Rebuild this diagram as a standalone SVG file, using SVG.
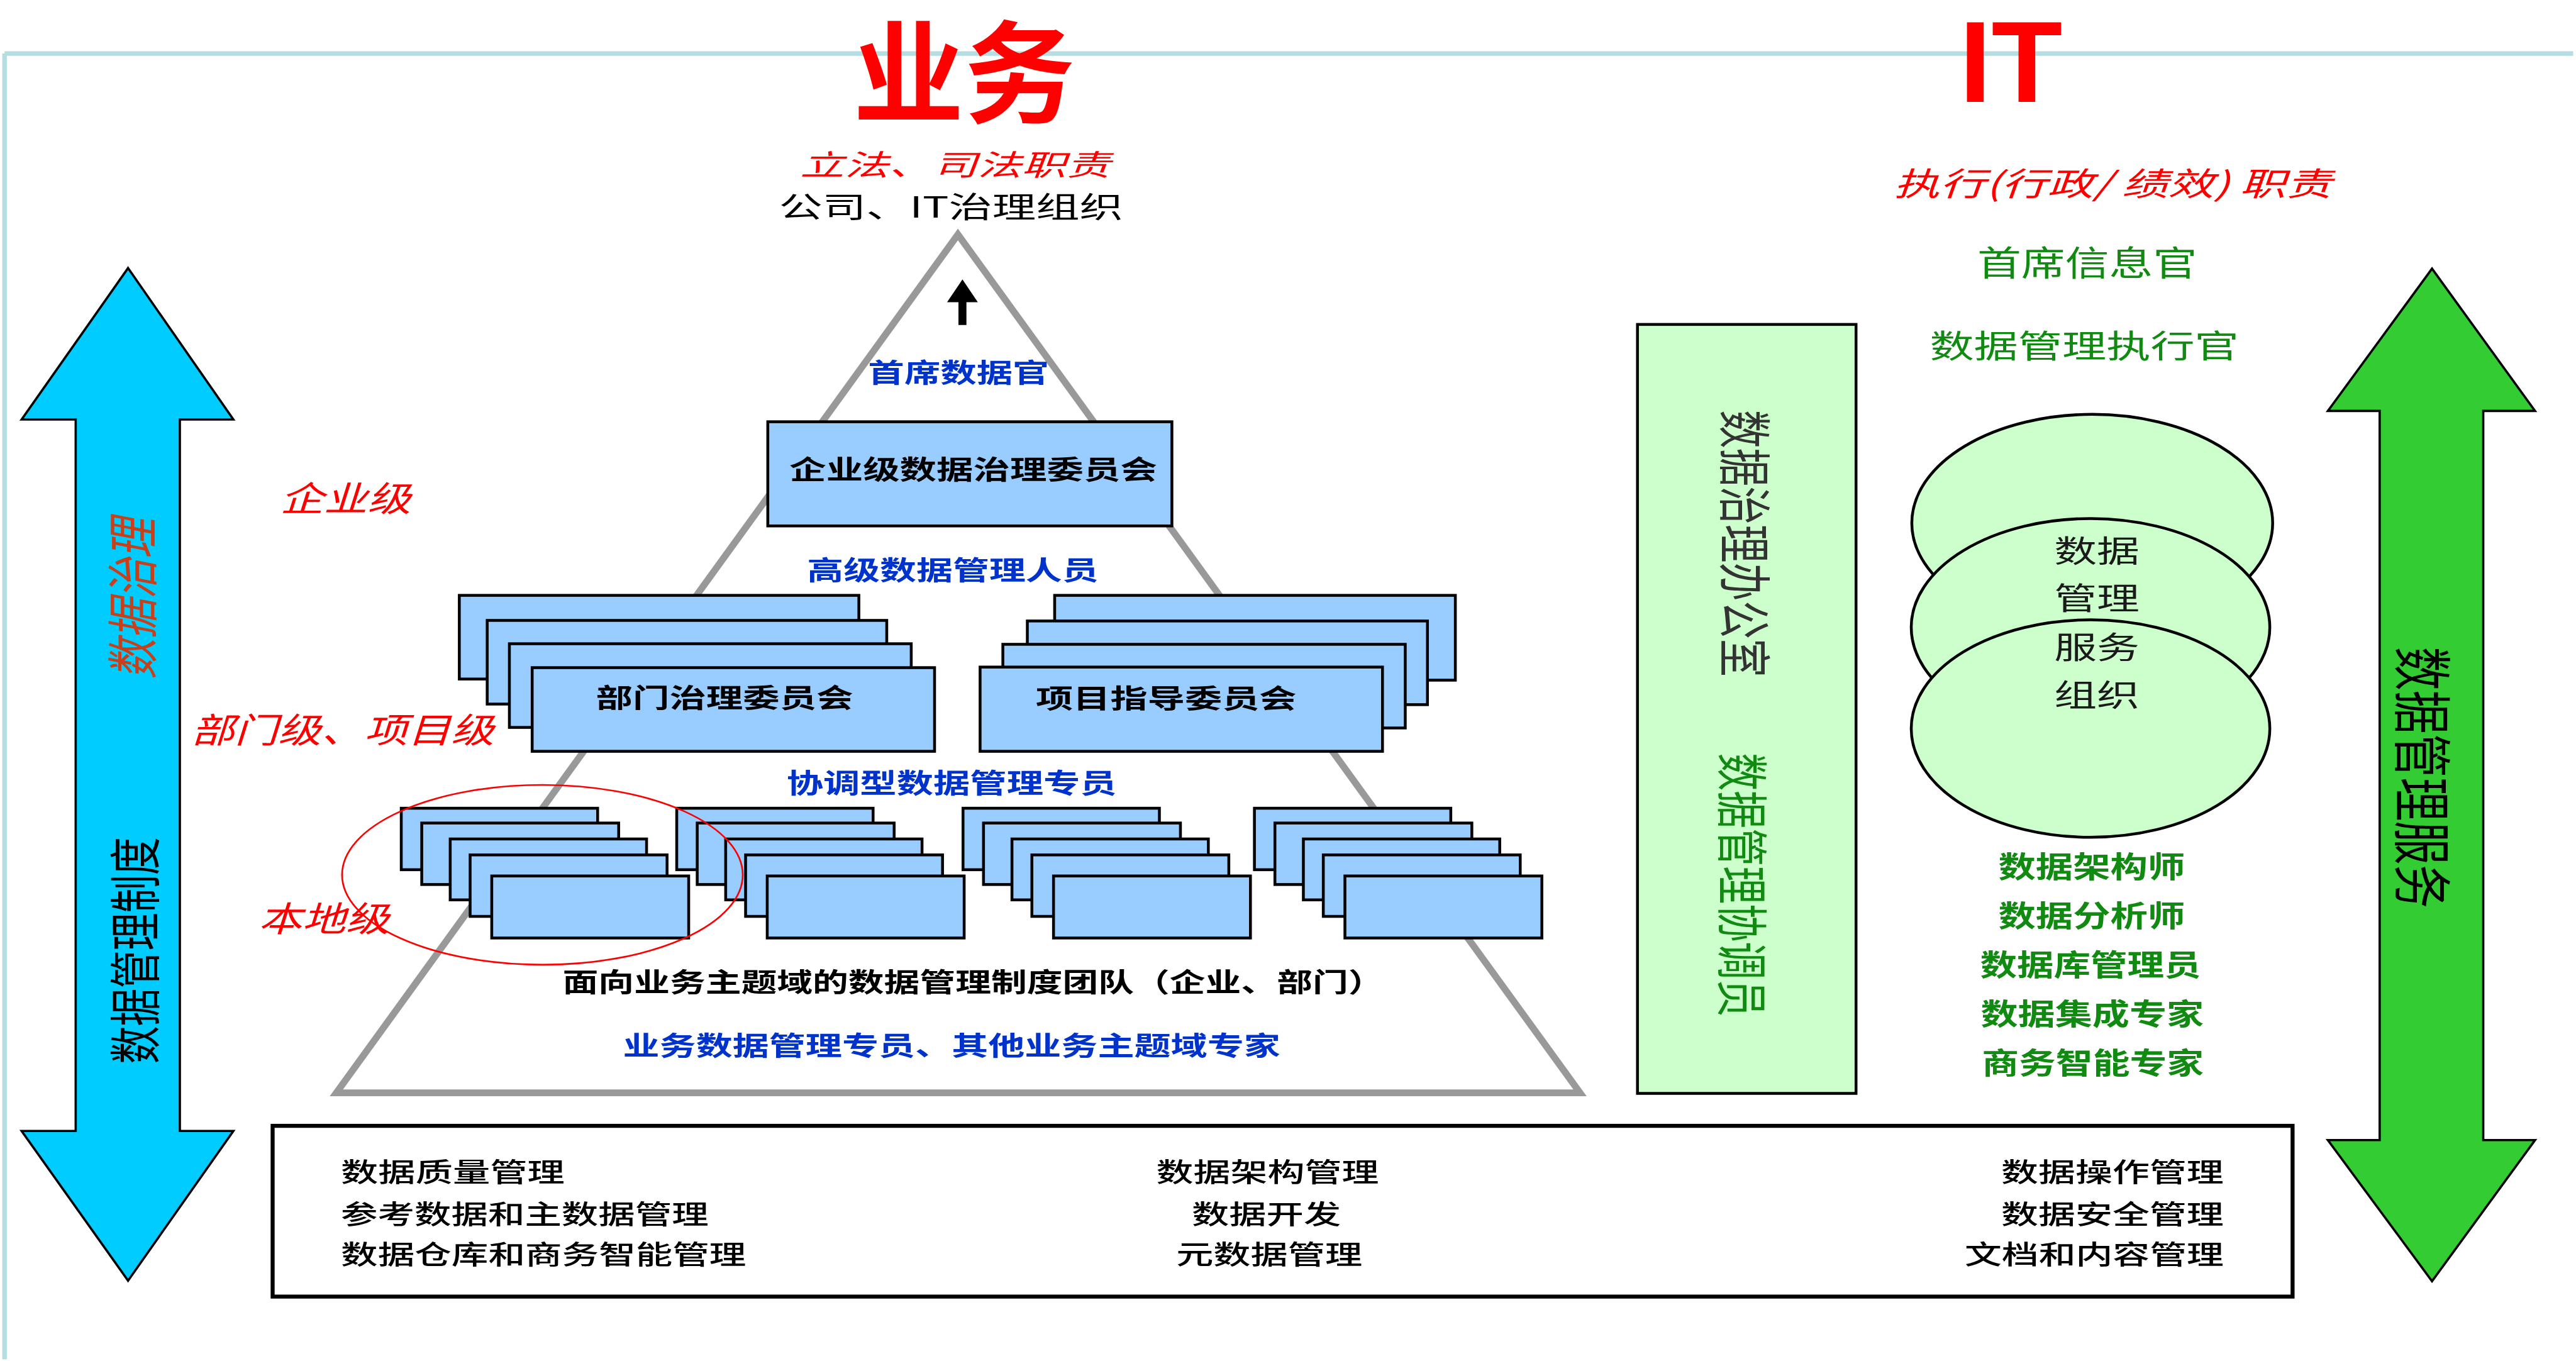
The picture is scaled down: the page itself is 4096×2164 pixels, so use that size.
<svg xmlns="http://www.w3.org/2000/svg" width="4096" height="2164" viewBox="0 0 4096 2164">
<style>
text{font-family:"Noto Sans CJK SC","Noto Sans",sans-serif;text-anchor:middle;dominant-baseline:central}
.b{font-weight:700}
.blue{fill:#0033cc;font-weight:700}
.redi{fill:#ff0000;font-style:italic}
.grn{fill:#118a11}
.box{fill:#99ccff;stroke:#000;stroke-width:5}
.gbox{fill:#ccffcc;stroke:#000;stroke-width:5}
.frame{stroke:#b5dde2;stroke-width:8;fill:none}
.bt{fill:#000;font-size:47px;font-weight:500}
</style>
<rect width="4096" height="2164" fill="#ffffff"/>
<g transform="scale(0.905)">
<g id="frame">
<line class="frame" x1="8" y1="94" x2="4521" y2="94"/>
<line class="frame" x1="8" y1="94" x2="8" y2="2388"/>
</g>
<g id="title-business"><text x="1694" y="115" font-size="196" class="b" fill="#ff0000" textLength="390" lengthAdjust="spacingAndGlyphs">业务</text></g>
<g id="title-it"><text x="3533" y="179" font-size="204" class="b" fill="#ff0000" style="font-family:'Liberation Sans',Arial,sans-serif;dominant-baseline:alphabetic">IT</text></g>

<g id="governance-header">
<text class="redi" x="1678" y="286" font-size="51" textLength="545" lengthAdjust="spacingAndGlyphs">立法、司法职责</text>
<text x="1671" y="360" font-size="51" fill="#000" textLength="605" lengthAdjust="spacingAndGlyphs">公司、IT治理组织</text>
</g>

<g id="left-arrow">
<polygon points="225,471 410,737 316,737 316,1987 410,1987 225,2250 38,1987 133,1987 133,737 38,737" fill="#00ccff" stroke="#000" stroke-width="4"/>
<text transform="translate(228,1052) scale(1.27,1) rotate(-90)" font-size="72" fill="#c8401a" font-style="italic" textLength="282" lengthAdjust="spacingAndGlyphs">数据治理</text>
<text transform="translate(232,1670) scale(1.37,1) rotate(-90)" font-size="67" fill="#000" textLength="398" lengthAdjust="spacingAndGlyphs">数据管理制度</text>
</g>

<g id="right-arrow">
<polygon points="4273,472 4454,722 4363,722 4363,2003 4454,2003 4273,2251 4090,2003 4181,2003 4181,722 4090,722" fill="#33cc33" stroke="#000" stroke-width="4"/>
<text transform="translate(4262,1366) scale(1.35,1) rotate(90)" font-size="77" fill="#000" textLength="459" lengthAdjust="spacingAndGlyphs">数据管理服务</text>
</g>

<g id="pyramid">
<polygon points="1683,412 591,1920 2776,1920" fill="none" stroke="#999999" stroke-width="12"/>
</g>

<g id="level-labels">
<text class="redi" x="607" y="872" font-size="61" textLength="230" lengthAdjust="spacingAndGlyphs">企业级</text>
<text class="redi" x="602" y="1278" font-size="61" textLength="532" lengthAdjust="spacingAndGlyphs">部门级、项目级</text>
<text class="redi" x="569" y="1610" font-size="61" textLength="230" lengthAdjust="spacingAndGlyphs">本地级</text>
</g>

<g id="cdo"><text class="blue" x="1684" y="651" font-size="47" textLength="318" lengthAdjust="spacingAndGlyphs">首席数据官</text></g>

<g id="enterprise-council">
<rect class="box" x="1349" y="741" width="710" height="183"/>
<text class="b" x="1710" y="821" font-size="47" fill="#000" textLength="646" lengthAdjust="spacingAndGlyphs">企业级数据治理委员会</text>
</g>

<g id="senior-staff"><text class="blue" x="1674" y="998" font-size="47" textLength="512" lengthAdjust="spacingAndGlyphs">高级数据管理人员</text></g>

<g id="dept-council">
<rect class="box" x="807" y="1046" width="702" height="147"/>
<rect class="box" x="856" y="1090" width="702" height="147"/>
<rect class="box" x="895" y="1131" width="706" height="147"/>
<rect class="box" x="935" y="1173" width="707" height="147"/>
<text class="b" x="1273" y="1223" font-size="47" fill="#000" textLength="452" lengthAdjust="spacingAndGlyphs">部门治理委员会</text>
</g>

<g id="project-council">
<rect class="box" x="1853" y="1046" width="704" height="149"/>
<rect class="box" x="1805" y="1091" width="703" height="147"/>
<rect class="box" x="1762" y="1132" width="707" height="147"/>
<rect class="box" x="1722" y="1172" width="707" height="148"/>
<text class="b" x="2049" y="1224" font-size="47" fill="#000" textLength="458" lengthAdjust="spacingAndGlyphs">项目指导委员会</text>
</g>

<g id="coordinating-stewards"><text class="blue" x="1672" y="1373" font-size="48" textLength="580" lengthAdjust="spacingAndGlyphs">协调型数据管理专员</text></g>

<g id="local-team-1">
<rect class="box" x="705" y="1420" width="345" height="108"/>
<rect class="box" x="741" y="1446" width="346" height="108"/>
<rect class="box" x="791" y="1474" width="345" height="107"/>
<rect class="box" x="826" y="1502" width="346" height="108"/>
<rect class="box" x="864" y="1539" width="346" height="109"/>
</g>
<g id="local-team-2">
<rect class="box" x="1189" y="1420" width="345" height="108"/>
<rect class="box" x="1225" y="1446" width="346" height="108"/>
<rect class="box" x="1275" y="1474" width="345" height="107"/>
<rect class="box" x="1310" y="1502" width="346" height="108"/>
<rect class="box" x="1348" y="1539" width="346" height="109"/>
</g>
<g id="local-team-3">
<rect class="box" x="1692" y="1420" width="345" height="108"/>
<rect class="box" x="1728" y="1446" width="346" height="108"/>
<rect class="box" x="1778" y="1474" width="345" height="107"/>
<rect class="box" x="1813" y="1502" width="346" height="108"/>
<rect class="box" x="1851" y="1539" width="346" height="109"/>
</g>
<g id="local-team-4">
<rect class="box" x="2204" y="1420" width="345" height="108"/>
<rect class="box" x="2240" y="1446" width="346" height="108"/>
<rect class="box" x="2290" y="1474" width="345" height="107"/>
<rect class="box" x="2325" y="1502" width="346" height="108"/>
<rect class="box" x="2363" y="1539" width="346" height="109"/>
</g>
<g id="local-highlight"><ellipse cx="953" cy="1537" rx="352" ry="158" fill="none" stroke="#ff0000" stroke-width="3"/></g>

<g id="subject-teams">
<text class="b" x="1710" y="1722" font-size="47" fill="#000" textLength="1443" lengthAdjust="spacingAndGlyphs">面向业务主题域的数据管理制度团队（企业、部门）</text>
<text class="blue" x="1672" y="1834" font-size="47" textLength="1155" lengthAdjust="spacingAndGlyphs">业务数据管理专员、其他业务主题域专家</text>
</g>

<g id="it-header">
<text class="redi" x="3712" y="319" font-size="57" textLength="770" lengthAdjust="spacingAndGlyphs">执行(行政/ 绩效) 职责</text>
<text class="grn" x="3667" y="458" font-size="60" textLength="386" lengthAdjust="spacingAndGlyphs">首席信息官</text>
<text class="grn" x="3662" y="604" font-size="57" textLength="543" lengthAdjust="spacingAndGlyphs">数据管理执行官</text>
</g>

<g id="dg-office">
<rect class="gbox" x="2877" y="570" width="384" height="1351"/>
<text transform="translate(3071,955) scale(1.38,1) rotate(90)" font-size="68" fill="#333333" textLength="469" lengthAdjust="spacingAndGlyphs">数据治理办公室</text>
<text transform="translate(3066,1555) scale(1.37,1) rotate(90)" font-size="67" class="grn" textLength="464" lengthAdjust="spacingAndGlyphs">数据管理协调员</text>
</g>

<g id="dm-services-org">
<ellipse class="gbox" cx="3676" cy="919" rx="317" ry="191"/>
<ellipse class="gbox" cx="3673" cy="1102" rx="315" ry="191"/>
<ellipse class="gbox" cx="3673" cy="1280" rx="315" ry="191"/>
<text x="3684" y="964" font-size="54" fill="#1a1a1a" textLength="150" lengthAdjust="spacingAndGlyphs">数据</text>
<text x="3684" y="1047" font-size="54" fill="#1a1a1a" textLength="150" lengthAdjust="spacingAndGlyphs">管理</text>
<text x="3684" y="1133" font-size="54" fill="#1a1a1a" textLength="150" lengthAdjust="spacingAndGlyphs">服务</text>
<text x="3684" y="1217" font-size="54" fill="#1a1a1a" textLength="150" lengthAdjust="spacingAndGlyphs">组织</text>
</g>

<g id="it-roles">
<text class="grn b" x="3675" y="1519" font-size="52" textLength="328" lengthAdjust="spacingAndGlyphs">数据架构师</text>
<text class="grn b" x="3675" y="1605" font-size="52" textLength="328" lengthAdjust="spacingAndGlyphs">数据分析师</text>
<text class="grn b" x="3673" y="1691" font-size="52" textLength="388" lengthAdjust="spacingAndGlyphs">数据库管理员</text>
<text class="grn b" x="3676" y="1777" font-size="52" textLength="392" lengthAdjust="spacingAndGlyphs">数据集成专家</text>
<text class="grn b" x="3677" y="1863" font-size="52" textLength="390" lengthAdjust="spacingAndGlyphs">商务智能专家</text>
</g>

<g id="dm-functions">
<rect x="479" y="1978" width="3549" height="300" fill="#ffffff" stroke="#000" stroke-width="7"/>
<text class="bt" x="599" y="2056" style="text-anchor:start" textLength="393" lengthAdjust="spacingAndGlyphs">数据质量管理</text>
<text class="bt" x="599" y="2130" style="text-anchor:start" textLength="646" lengthAdjust="spacingAndGlyphs">参考数据和主数据管理</text>
<text class="bt" x="599" y="2200" style="text-anchor:start" textLength="712" lengthAdjust="spacingAndGlyphs">数据仓库和商务智能管理</text>
<text class="bt" x="2227" y="2056" textLength="391" lengthAdjust="spacingAndGlyphs">数据架构管理</text>
<text class="bt" x="2225" y="2130" textLength="262" lengthAdjust="spacingAndGlyphs">数据开发</text>
<text class="bt" x="2230" y="2200" textLength="327" lengthAdjust="spacingAndGlyphs">元数据管理</text>
<text class="bt" x="3907" y="2056" style="text-anchor:end" textLength="391" lengthAdjust="spacingAndGlyphs">数据操作管理</text>
<text class="bt" x="3907" y="2130" style="text-anchor:end" textLength="391" lengthAdjust="spacingAndGlyphs">数据安全管理</text>
<text class="bt" x="3907" y="2200" style="text-anchor:end" textLength="455" lengthAdjust="spacingAndGlyphs">文档和内容管理</text>
</g>

<g id="connectors">
<polygon points="1691,491 1718,531 1698,531 1698,571 1684,571 1684,531 1664,531" fill="#000"/>
</g>
</g>
</svg>
